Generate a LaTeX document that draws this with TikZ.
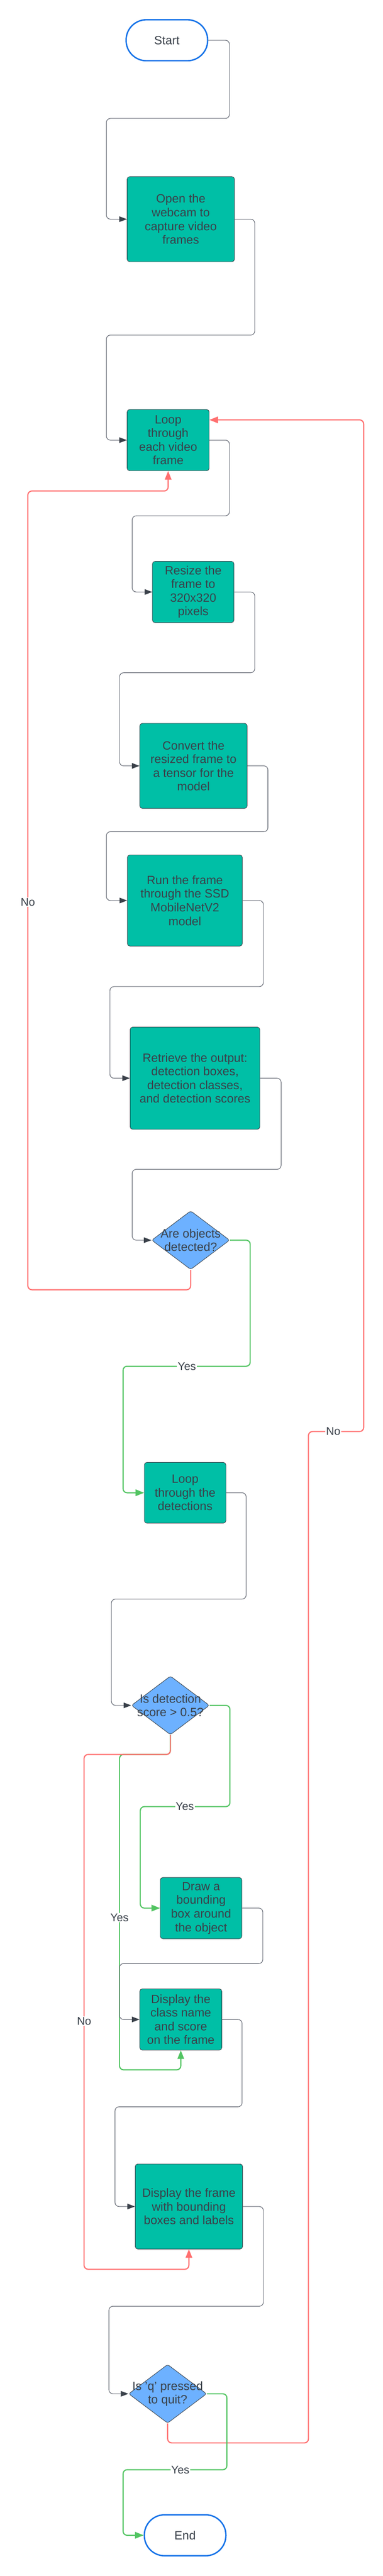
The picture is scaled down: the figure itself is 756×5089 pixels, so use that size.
\documentclass[tikz,border=0pt]{standalone}
\usepackage{fontspec}
\setmainfont{Liberation Sans}
\usetikzlibrary{shapes.geometric,arrows.meta}
\definecolor{tealfill}{HTML}{00BFA6}
\definecolor{decfill}{HTML}{6DB1FF}
\definecolor{ink}{HTML}{3A414A}
\definecolor{wire}{HTML}{5E636E}
\definecolor{termblue}{HTML}{1371E8}
\definecolor{yesgreen}{HTML}{52C462}
\definecolor{nored}{HTML}{FF6F6F}
\newcommand{\dectext}[1]{\makebox[0pt]{#1}}
\begin{document}
\begin{tikzpicture}[x=1pt,y=-1pt,
proc_node/.style={rectangle,rounded corners=5pt,fill=tealfill,draw=ink,line width=0.9pt,text=ink,align=center,inner sep=0pt,font=\fontsize{23.7}{27}\selectfont},
term_node/.style={rectangle,rounded corners=40pt,fill=white,draw=termblue,line width=2.7pt,text=ink,minimum width=161pt,minimum height=81pt,font=\fontsize{23.7}{27}\selectfont},
dec_node/.style={diamond,rounded corners=4pt,fill=decfill,draw=ink,line width=0.9pt,text=ink,align=center,inner sep=0pt,minimum width=154pt,minimum height=116pt,font=\fontsize{23.7}{27}\selectfont},
flow/.style={draw=wire,line width=1.1pt,rounded corners=8pt,-{Triangle[length=15pt,width=11pt,color=ink]}},
yes_flow/.style={draw=yesgreen,line width=2.2pt,rounded corners=8pt,-{Triangle[length=17pt,width=13pt]}},
no_flow/.style={draw=nored,line width=2.2pt,rounded corners=8pt,-{Triangle[length=17pt,width=13pt]}},
edge_label/.style={fill=white,text=ink,inner sep=1.5pt,font=\fontsize{22}{24}\selectfont}]

\useasboundingbox (0,0) rectangle (756,5089);

\node[term_node] (start) at (329.5,79.5) {Start};
\node[proc_node,minimum width=212pt,minimum height=168pt] (open) at (357,433) {Open the\\webcam to\\capture video\\frames};
\node[proc_node,minimum width=162pt,minimum height=121pt] (loop) at (332,869.5) {Loop\\through\\each video\\frame};
\node[proc_node,minimum width=161pt,minimum height=121pt] (resize) at (381.5,1169.5) {Resize the\\frame to\\320x320\\pixels};
\node[proc_node,minimum width=212pt,minimum height=168pt] (convert) at (382,1513) {Convert the\\resized frame to\\a tensor for the\\model};
\node[proc_node,minimum width=227pt,minimum height=180pt] (run) at (365,1779) {Run the frame\\through the SSD\\MobileNetV2\\model};
\node[proc_node,minimum width=256pt,minimum height=202pt] (retrieve) at (385,2130) {Retrieve the output:\\detection boxes,\\detection classes,\\and detection scores};
\node[dec_node] (objq) at (376.5,2450) {\dectext{Are objects}\\\dectext{detected?}};
\node[proc_node,minimum width=161pt,minimum height=120pt] (loopdet) at (365.5,2949) {Loop\\through the\\detections};
\node[dec_node] (scoreq) at (336.5,3369) {\dectext{Is detection}\\\dectext{score > 0.5?}};
\node[proc_node,minimum width=161pt,minimum height=121pt] (drawbox) at (397,3769.5) {Draw a\\bounding\\box around\\the object};
\node[proc_node,minimum width=162pt,minimum height=121pt] (showcls) at (357,3989.5) {Display the\\class name\\and score\\on the frame};
\node[proc_node,minimum width=212pt,minimum height=168pt] (showfrm) at (373,4359) {Display the frame\\with bounding\\boxes and labels};
\node[dec_node] (quitq) at (331,4729) {\dectext{Is 'q' pressed}\\\dectext{to quit?}};
\node[term_node] (end) at (365.5,5008.5) {End};

\draw[flow] (start.east) -| (453,234) -| (210,433) -- (open.west);
\draw[flow] (open.east) -| (503,662) -| (210,869.5) -- (loop.west);
\draw[flow] (loop.east) -| (453,1019) -| (261,1169.5) -- (resize.west);
\draw[flow] (resize.east) -| (503,1329) -| (236,1513) -- (convert.west);
\draw[flow] (convert.east) -| (529,1643) -| (210,1779) -- (run.west);
\draw[flow] (run.east) -| (520,1949) -| (217,2130) -- (retrieve.west);
\draw[flow] (retrieve.east) -| (555,2310) -| (261,2450) -- (objq.west);
\draw[flow] (loopdet.east) -| (486,3159) -| (220,3369) -- (scoreq.west);
\draw[yes_flow] (scoreq.south) |- (236,3466) |- (357,4089) -- (showcls.south);
\draw[no_flow] (scoreq.south) |- (166,3466) |- (373,4483) -- (showfrm.south);
\draw[flow] (drawbox.east) -| (519,3879) -| (236,3989.5) -- (showcls.west);
\draw[flow] (showcls.east) -| (478,4162) -| (227,4359) -- (showfrm.west);
\draw[flow] (showfrm.east) -| (520,4556) -| (215,4729) -- (quitq.west);
\draw[no_flow] (objq.south) |- (55,2548) |- (332,970) -- (loop.south);
\draw[yes_flow] (objq.east) -| (494,2699) -| (243,2949) -- (loopdet.west);
\draw[yes_flow] (scoreq.east) -| (454,3569) -| (277,3769.5) -- (drawbox.west);
\draw[no_flow] (quitq.south) |- (609,4826) |- (718,2828) |- ([yshift=40pt]loop.east);
\draw[yes_flow] (quitq.east) -| (448,4879) -| (243,5008.5) -- (end.west);

\node[edge_label] (no_a) at (55,1782) {No};
\node[edge_label] (yes_a) at (369,2699) {Yes};
\node[edge_label] (yes_b) at (365,3569) {Yes};
\node[edge_label] (yes_c) at (236,3788) {Yes};
\node[edge_label] (no_b) at (166,3993) {No};
\node[edge_label] (no_c) at (658,2828) {No};
\node[edge_label] (yes_d) at (356,4879) {Yes};
\end{tikzpicture}
\end{document}
